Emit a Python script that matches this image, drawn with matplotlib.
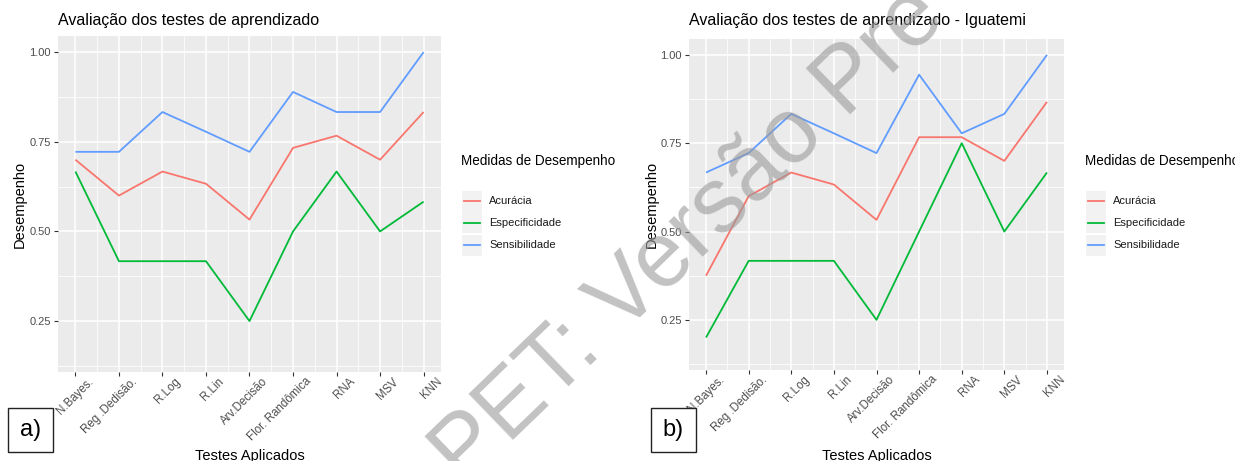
import matplotlib.pyplot as plt
from matplotlib.patches import Rectangle
from matplotlib.lines import Line2D
from matplotlib.ticker import MultipleLocator
from matplotlib.transforms import ScaledTranslation

plt.rcParams['font.family'] = ['Liberation Sans', 'DejaVu Sans']

# --- Data ---
testes = ["N.Bayes.", "Reg .Dedisão.", "R.Log", "R.Lin", "Arv.Decisão",
          "Flor. Randômica", "RNA", "MSV", "KNN"]
medidas = ["Acurácia", "Especificidade", "Sensibilidade"]
cores = ["#F8766D", "#00BA38", "#619CFF"]

# painel a) - geral
acuracia_a = [0.700, 0.600, 0.667, 0.633, 0.533, 0.733, 0.767, 0.700, 0.833]
especificidade_a = [0.667, 0.417, 0.417, 0.417, 0.250, 0.500, 0.667, 0.500, 0.583]
sensibilidade_a = [0.722, 0.722, 0.833, 0.778, 0.722, 0.889, 0.833, 0.833, 1.000]

# painel b) - Iguatemi
acuracia_b = [0.375, 0.600, 0.667, 0.633, 0.533, 0.767, 0.767, 0.700, 0.867]
especificidade_b = [0.200, 0.417, 0.417, 0.417, 0.250, 0.500, 0.750, 0.500, 0.667]
sensibilidade_b = [0.667, 0.722, 0.833, 0.778, 0.722, 0.944, 0.778, 0.833, 1.000]

titulos = ["Avaliação dos testes de aprendizado",
           "Avaliação dos testes de aprendizado - Iguatemi"]

W, H = 1235, 461
fig = plt.figure(figsize=(W / 100, H / 100), dpi=100)


def fx(px):
    return px / W


def fy(py):
    return 1 - py / H


def painel(rect, series, titulo, leg_x, ylab_x, tag, tag_x):
    ax = fig.add_axes(rect)
    ax.set_facecolor("#EBEBEB")
    x = list(range(len(testes)))
    for vals, cor in zip(series, cores):
        ax.plot(x, vals, color=cor, lw=1.3, solid_capstyle="butt")
    ax.set_xlim(-0.4, len(testes) - 0.6)
    ax.set_ylim(0.108, 1.045)
    ax.set_xticks(x)
    ax.set_xticklabels([])
    # rótulos do eixo x girados, deslocados como no ggplot
    shift = ax.get_xaxis_transform() + ScaledTranslation(0.12, -0.035, fig.dpi_scale_trans)
    for xi, nome in zip(x, testes):
        ax.text(xi, 0, nome, transform=shift, rotation=45, ha="right", va="top",
                rotation_mode="anchor", fontsize=8.3, color="#4D4D4D")
    ax.set_yticks([0.25, 0.50, 0.75, 1.00])
    ax.set_yticklabels(["0.25", "0.50", "0.75", "1.00"], fontsize=8, color="#4D4D4D")
    ax.xaxis.set_minor_locator(MultipleLocator(0.5))
    ax.yaxis.set_minor_locator(MultipleLocator(0.125))
    ax.grid(which="major", color="white", lw=1.1)
    ax.grid(which="minor", color="white", lw=0.55)
    ax.set_axisbelow(True)
    ax.tick_params(which="major", length=3, width=0.8, color="#333333", pad=2)
    ax.tick_params(which="minor", length=0)
    for s in ax.spines.values():
        s.set_visible(False)

    pos = ax.get_position()
    fig.text(pos.x0, fy(21), titulo, fontsize=11.5, ha="left", va="center")
    fig.text(fx(ylab_x), pos.y0 + pos.height / 2, "Desempenho", rotation=90,
             fontsize=10.5, ha="center", va="center")
    fig.text(pos.x0 + pos.width / 2, fy(456), "Testes Aplicados",
             fontsize=10.5, ha="center", va="center")

    # legenda
    fig.text(fx(leg_x), fy(161), "Medidas de Desempenho", fontsize=9.75,
             ha="left", va="center")
    for i, (nome, cor) in enumerate(zip(medidas, cores)):
        yc = 201 + i * 22
        fig.add_artist(Rectangle((fx(leg_x + 1), fy(yc + 10.5)), fx(20), 21 / H,
                                 transform=fig.transFigure, facecolor="#F2F2F2",
                                 edgecolor="none"))
        fig.add_artist(Line2D([fx(leg_x + 3), fx(leg_x + 19)], [fy(yc), fy(yc)],
                              transform=fig.transFigure, color=cor, lw=1.3))
        fig.text(fx(leg_x + 28), fy(yc), nome, fontsize=8, ha="left",
                 va="center", color="#1A1A1A")

    # rótulo do painel
    fig.add_artist(Rectangle((fx(tag_x), fy(452)), fx(45), 44 / H,
                             transform=fig.transFigure, facecolor="white",
                             edgecolor="#222222", lw=1.0))
    fig.text(fx(tag_x + 22.5), fy(430), tag, fontsize=17, ha="center", va="center")
    return ax


painel([fx(58), fy(372), fx(441 - 58), (372 - 36) / H],
       [acuracia_a, especificidade_a, sensibilidade_a], titulos[0],
       461, 20, "a)", 8)
painel([fx(689), fy(370), fx(1064 - 689), (370 - 39) / H],
       [acuracia_b, especificidade_b, sensibilidade_b], titulos[1],
       1085, 652, "b)", 651)

# marca d'água
fig.text(fx(448), fy(470), "PET: Versão Pre", rotation=44, rotation_mode="anchor",
         fontsize=66, color="#9A9A9A", alpha=0.6, ha="left", va="center")

fig.savefig("out.png", dpi=100)
